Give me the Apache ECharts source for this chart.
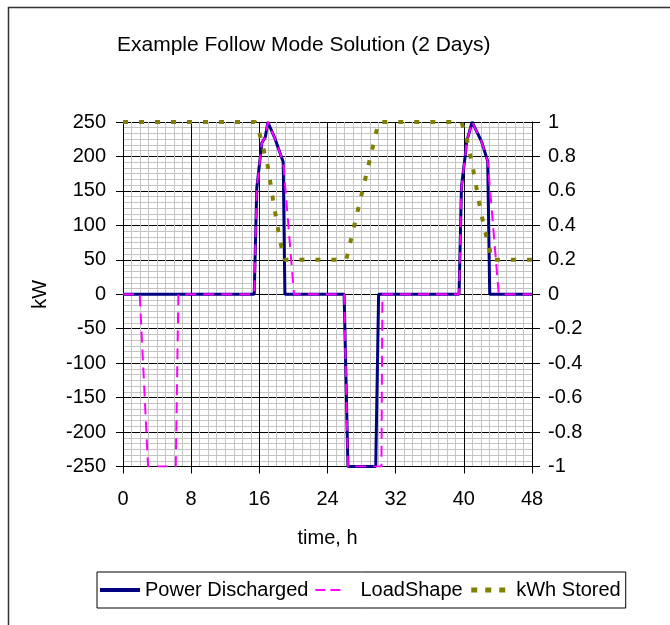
<!DOCTYPE html>
<html>
<head>
<meta charset="utf-8">
<script src="https://cdn.jsdelivr.net/npm/echarts@6/dist/echarts.min.js"></script>
<style>
  html, body { margin: 0; padding: 0; background: #fff; }
  #chart { width: 670px; height: 625px; }
</style>
</head>
<body>
<div id="chart"></div>
<script>
// Storage dispatch over two days: power (kW, left axis) and state of charge (right axis)
const xTicks = [0, 8, 16, 24, 32, 40, 48];
const kwTicks = [-250, -200, -150, -100, -50, 0, 50, 100, 150, 200, 250];
const socTicks = [-1, -0.8, -0.6, -0.4, -0.2, 0, 0.2, 0.4, 0.6, 0.8, 1];

// Power Discharged, kW
const pdTime = [0, 15.4, 15.7, 16.3, 16.7, 17.0, 17.8, 18.8, 19.0, 25.95, 26.4, 29.66, 30.0,
                39.44, 39.72, 40.2, 40.3, 40.97, 42.07, 42.8, 43.04, 48];
const pdKW   = [0, 0, 154, 220, 228, 250, 227, 192, 0, 0, -250, -250, 0,
                0, 156, 205, 220, 250, 222, 193, 0, 0];

// LoadShape, kW
const lsTime = [0, 1.96, 2.94, 6.19, 6.5, 15.4, 15.7, 16.3, 16.7, 17.0, 17.8, 18.8, 20.07,
                25.95, 26.4, 30.33, 30.44, 39.44, 39.72, 40.2, 40.3, 40.97, 42.07, 42.8, 44.1, 48];
const lsKW   = [0, 0, -250, -250, 0, 0, 154, 220, 228, 250, 227, 192, 0,
                0, -250, -250, 0, 0, 156, 205, 220, 250, 222, 193, 0, 0];

// kWh Stored, fraction of capacity
const stTime = [0, 15.5, 15.85, 17.0, 17.6, 18.27, 18.78, 19.0, 26.2, 30.0,
                39.7, 40.3, 41.1, 41.87, 42.45, 43.04, 43.2, 48];
const stFrac = [1, 1, 0.966, 0.742, 0.55, 0.355, 0.23, 0.2, 0.2, 1,
                1, 0.917, 0.723, 0.51, 0.374, 0.258, 0.2, 0.2];

const pairs = (xs, ys) => xs.map((x, i) => [x, ys[i]]);
const FONT = "'Liberation Sans', Arial, sans-serif";
const TXT = '#000';

const chart = echarts.init(document.getElementById('chart'), null, { renderer: 'canvas' });

chart.setOption({
  animation: false,
  backgroundColor: '#fff',
  textStyle: { fontFamily: FONT, color: TXT },
  title: {
    text: 'Example Follow Mode Solution (2 Days)',
    left: 117, top: 35, padding: 0,
    textStyle: { fontFamily: FONT, fontSize: 21, fontWeight: 'normal', color: TXT }
  },
  graphic: [
    { type: 'polyline', silent: true, z: 0,
      shape: { points: [[8.5, 625], [8.5, 7.5], [670, 7.5]] },
      style: { stroke: '#333', lineWidth: 1.5, fill: null } }
  ],
  legend: {
    left: 97, top: 572, padding: [8, 5, 8, 1],
    borderColor: '#000', borderWidth: 1,
    itemWidth: 40, itemHeight: 14, itemGap: 6,
    itemStyle: { opacity: 0, color: 'transparent', borderWidth: 0 },
    textStyle: { fontFamily: FONT, fontSize: 20, color: TXT },
    data: [
      { name: 'Power Discharged', lineStyle: { width: 4 } },
      { name: 'LoadShape', lineStyle: { width: 2, type: [10, 5, 10, 60] } },
      { name: 'kWh Stored', lineStyle: { width: 5, type: [6, 8, 6, 8, 6, 60] } }
    ]
  },
  grid: { left: 123, top: 122, width: 409, height: 344.5, containLabel: false },
  xAxis: {
    type: 'value', min: 0, max: 48, interval: 8,
    name: 'time, h', nameLocation: 'middle', nameGap: 62,
    nameTextStyle: { fontFamily: FONT, fontSize: 20, color: TXT },
    axisLine: { show: true, onZero: false, lineStyle: { color: '#000', width: 1 } },
    axisTick: { show: true, length: 7, lineStyle: { color: '#000' } },
    axisLabel: { margin: 23, fontSize: 20, color: TXT, fontFamily: FONT,
                 formatter: v => (xTicks.includes(v) ? String(v) : '') },
    splitLine: { show: true, lineStyle: { color: '#000', width: 1 } },
    minorTick: { show: false, splitNumber: 8 },
    minorSplitLine: { show: true, lineStyle: { color: '#c4c4c4', width: 1 } }
  },
  yAxis: [
    {
      type: 'value', min: -250, max: 250, interval: 50, position: 'left',
      name: 'kW', nameLocation: 'middle', nameGap: 73, nameRotate: 90,
      nameTextStyle: { fontFamily: FONT, fontSize: 20, color: TXT },
      axisLine: { show: true, lineStyle: { color: '#000', width: 1 } },
      axisTick: { show: true, length: 7, lineStyle: { color: '#000' } },
      axisLabel: { margin: 17, fontSize: 20, color: TXT, fontFamily: FONT,
                   formatter: v => (kwTicks.includes(v) ? String(v) : '') },
      splitLine: { show: true, lineStyle: { color: '#000', width: 1 } },
      minorTick: { show: false, splitNumber: 6 },
      minorSplitLine: { show: true, lineStyle: { color: '#c4c4c4', width: 1 } }
    },
    {
      type: 'value', min: -1, max: 1, interval: 0.2, position: 'right',
      axisLine: { show: true, lineStyle: { color: '#000', width: 1 } },
      axisTick: { show: true, length: 8, lineStyle: { color: '#000' } },
      axisLabel: { margin: 16, fontSize: 20, color: TXT, fontFamily: FONT,
                   formatter: v => {
                     const r = Number(v.toFixed(1));
                     return socTicks.includes(r) ? String(r) : '';
                   } },
      splitLine: { show: false }
    }
  ],
  series: [
    {
      name: 'Power Discharged', type: 'line', yAxisIndex: 0,
      data: pairs(pdTime, pdKW), showSymbol: false, symbol: 'none',
      color: '#000080',
      lineStyle: { color: '#000080', width: 3 }, z: 3
    },
    {
      name: 'LoadShape', type: 'line', yAxisIndex: 0,
      data: pairs(lsTime, lsKW), showSymbol: false, symbol: 'none',
      color: '#ff00ff',
      lineStyle: { color: '#ff00ff', width: 2, type: [11, 7] }, z: 4
    },
    {
      name: 'kWh Stored', type: 'line', yAxisIndex: 1,
      data: pairs(stTime, stFrac), showSymbol: false, symbol: 'none',
      color: '#808000',
      lineStyle: { color: '#808000', width: 4, type: [5, 11] }, z: 5
    }
  ]
});
</script>
</body>
</html>
